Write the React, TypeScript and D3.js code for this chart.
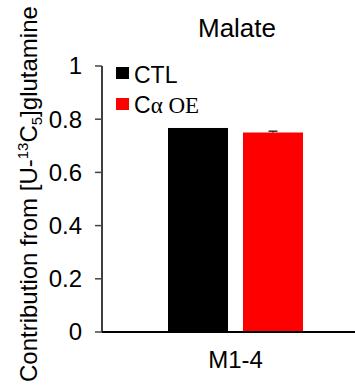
import React from "react";
import * as d3 from "d3";

const categories = ["M1-4"];
const seriesNames = ["CTL", "Cα OE"];
const seriesColors = ["#000000", "#ff0000"];
const ctlValues = [0.767];
const oeValues = [0.75];
const ctlErrors = [0.0];
const oeErrors = [0.005];
const yTicks = [0, 0.2, 0.4, 0.6, 0.8, 1];
const title = "Malate";

const W = 355;
const H = 388;

export default function App() {
  const y = d3.scaleLinear().domain([0, 1]).range([332, 66]);
  const x = d3.scaleBand<string>().domain(categories).range([102, 369]);
  const series = [
    { vals: ctlValues, errs: ctlErrors },
    { vals: oeValues, errs: oeErrors },
  ];
  const font = "Arial, 'Liberation Sans', sans-serif";
  return (
    <svg
      width={W}
      height={H}
      style={{ position: "absolute", left: 0, top: 0 }}
      fontFamily={font}
    >
      <rect width={W} height={H} fill="#fff" />
      <text x={237} y={37} fontSize={26} textAnchor="middle" fill="#000">
        {title}
      </text>
      {/* y-axis label */}
      <text
        transform={`translate(37,382) rotate(-90)`}
        fontSize={24}
        fill="#000"
      >
        Contribution from [U-
        <tspan dy={-9} fontSize={15}>13</tspan>
        <tspan dy={9}>C</tspan>
        <tspan dy={5} fontSize={15}>5</tspan>
        <tspan dy={-5}>]glutamine</tspan>
      </text>
      {/* bars */}
      {categories.map((c, ci) => {
        const center = (x(c) ?? 0) + x.bandwidth() / 2;
        const inner = d3
          .scaleBand<number>()
          .domain([0, 1])
          .range([center - 67.5, center + 67.5])
          .paddingInner(0.2);
        return series.map((s, si) => {
          const bx = inner(si) ?? 0;
          const bw = inner.bandwidth();
          const v = s.vals[ci];
          const e = s.errs[ci];
          const cx = bx + bw / 2;
          return (
            <g key={`${ci}-${si}`}>
              <rect
                x={bx}
                y={y(v)}
                width={bw}
                height={y(0) - y(v)}
                fill={seriesColors[si]}
              />
              {e > 0 && (
                <g stroke="#000" strokeWidth={1.2}>
                  <line x1={cx} x2={cx} y1={y(v + e)} y2={y(v)} />
                  <line x1={cx - 4.5} x2={cx + 4.5} y1={y(v + e)} y2={y(v + e)} />
                </g>
              )}
            </g>
          );
        });
      })}
      {/* y axis */}
      <line x1={102} x2={102} y1={y(1)} y2={y(0)} stroke="#000" strokeWidth={1.5} />
      {yTicks.map((t) => (
        <g key={t}>
          <line x1={95} x2={102} y1={y(t)} y2={y(t)} stroke="#444" strokeWidth={1.5} />
          <text
            x={82}
            y={y(t)}
            dy="0.35em"
            fontSize={24}
            textAnchor="end"
            fill="#000"
          >
            {t}
          </text>
        </g>
      ))}
      {/* x axis */}
      <line x1={102} x2={W} y1={y(0)} y2={y(0)} stroke="#000" strokeWidth={1.8} />
      {categories.map((c) => (
        <text
          key={c}
          x={(x(c) ?? 0) + x.bandwidth() / 2}
          y={368}
          fontSize={24}
          textAnchor="middle"
          fill="#000"
        >
          {c}
        </text>
      ))}
      {/* legend */}
      {seriesNames.map((n, i) => (
        <g key={n} transform={`translate(116,${67 + i * 31})`}>
          <rect width={13} height={12} fill={seriesColors[i]} />
          {i === 0 ? (
            <text x={18} y={16} fontSize={23} fill="#000">
              {n}
            </text>
          ) : (
            <text x={18} y={15} fontSize={23} fill="#000">
              {n.charAt(0)}
              <tspan fontFamily="'Liberation Serif', 'Times New Roman', serif">
                {n.slice(1)}
              </tspan>
            </text>
          )}
        </g>
      ))}
    </svg>
  );
}
